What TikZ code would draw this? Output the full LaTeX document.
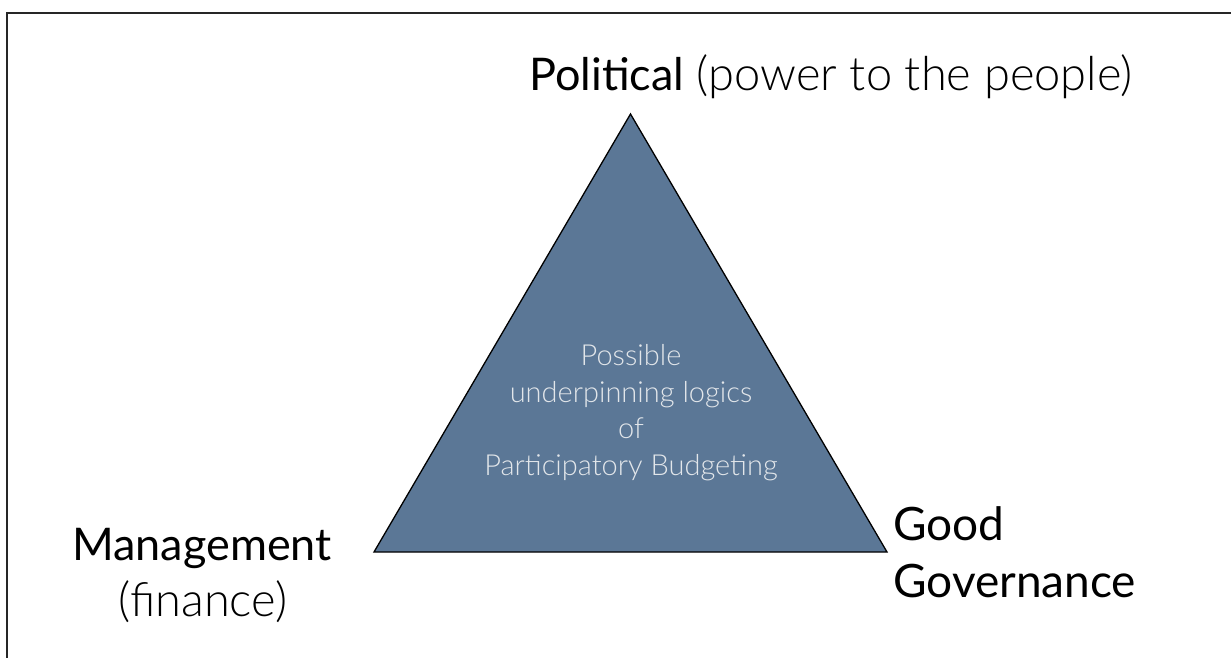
\documentclass[tikz,border=0pt]{standalone}
\usepackage{fontspec}
\setmainfont{Lato}
\newfontfamily\lightfont{Lato Light}
\definecolor{triblue}{RGB}{91,119,150}
\definecolor{innertext}{RGB}{226,230,234}
\tikzset{
  frame/.style={line width=2pt, black!85},
  tri/.style={fill=triblue, draw=black, line width=1.3pt, line join=miter},
  big/.style={inner sep=0pt, font=\fontsize{45}{52}\selectfont, text=black},
  bigl/.style={inner sep=0pt, font=\lightfont\fontsize{47}{52}\selectfont, text=black},
  inner/.style={inner sep=0pt, font=\lightfont\fontsize{29}{34}\selectfont, text=innertext}
}
\begin{document}
\begin{tikzpicture}[x=1pt,y=-1pt]
\useasboundingbox (0,0) rectangle (1231,658);
\fill[white] (0,0) rectangle (1231,658);
\coordinate (fa) at (7,672);
\coordinate (fb) at (7,13);
\coordinate (fc) at (1245,13);
\draw[frame] (fa) -- (fb) -- (fc);
\coordinate (A) at (630.5,114);
\coordinate (B) at (374,552);
\coordinate (C) at (887,552);
\draw[tri] (A) -- (B) -- (C) -- cycle;
\node[big, anchor=base west] (pol) at (529,91) {Political\fontsize{47}{52}\lightfont\ (power to the people)};
\node[big, anchor=base] (man) at (202,560) {Management};
\node[bigl, anchor=base] (fin) at (203,616) {(finance)};
\node[big, font=\fontsize{46}{52}\selectfont, anchor=base west] (good) at (893,540) {Good};
\node[big, font=\fontsize{46}{52}\selectfont, anchor=base west] (gov) at (893,597) {Governance};
\node[inner, anchor=base] (l1) at (631,365) {Possible};
\node[inner, anchor=base] (l2) at (631,402) {underpinning logics};
\node[inner, anchor=base] (l3) at (631,438) {of};
\node[inner, anchor=base] (l4) at (631,475) {Participatory Budgeting};
\end{tikzpicture}
\end{document}
